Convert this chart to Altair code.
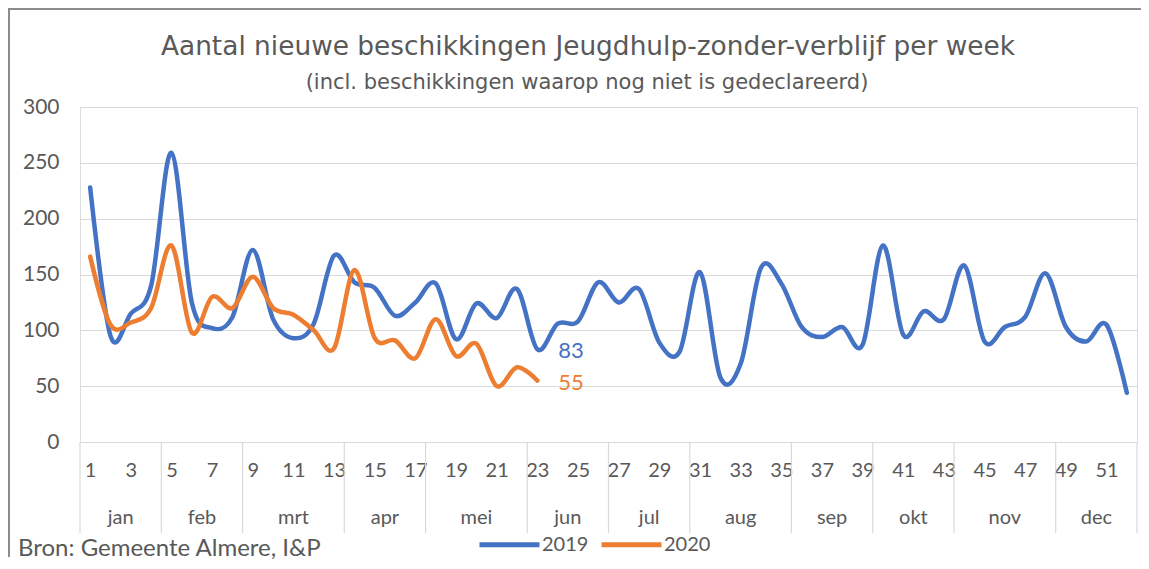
import altair as alt
import pandas as pd

weeks_2019 = list(range(1, 53))
values_2019 = [228, 95, 115, 140, 259, 125, 102, 112, 172, 110, 93, 106, 167,
               143, 138, 113, 125, 142, 92, 124, 111, 137, 83, 106, 108, 143,
               125, 137, 89, 81, 152, 58, 70, 156, 142, 103, 94, 103, 87, 176,
               96, 117, 110, 158, 90, 103, 112, 151, 103, 90, 105, 44]
weeks_2020 = list(range(1, 24))
values_2020 = [166, 105, 107, 120, 176, 98, 130, 120, 148, 120, 114, 100, 84,
               154, 93, 91, 75, 110, 77, 88, 50, 67, 55]

months = ["jan", "feb", "mrt", "apr", "mei", "jun", "jul", "aug", "sep",
          "okt", "nov", "dec"]
weeks_per_month = [4, 4, 5, 4, 5, 4, 4, 5, 4, 4, 5, 4]
week_ticks = list(range(1, 52, 2))

title_text = "Aantal nieuwe beschikkingen Jeugdhulp-zonder-verblijf per week"
subtitle_text = "(incl. beschikkingen waarop nog niet is gedeclareerd)"
source_text = "Bron: Gemeente Almere, I&P"

FONT = "Lato"
TFONT = "DejaVu Sans"
GREY = "#595959"
W, H = 1057, 335

lines = pd.DataFrame(
    [{"week": w, "value": v, "jaar": "2019"} for w, v in zip(weeks_2019, values_2019)]
    + [{"week": w, "value": v, "jaar": "2020"} for w, v in zip(weeks_2020, values_2020)]
)

bounds = [0.5]
for n in weeks_per_month:
    bounds.append(bounds[-1] + n)
month_df = pd.DataFrame({
    "month": months,
    "mid": [(bounds[i] + bounds[i + 1]) / 2 for i in range(len(months))],
})
bound_df = pd.DataFrame({"b": bounds})

last_df = pd.DataFrame({
    "week": [weeks_2020[-1], weeks_2020[-1]],
    "value": [values_2019[weeks_2020[-1] - 1], values_2020[-1]],
    "jaar": ["2019", "2020"],
    "label": [str(values_2019[weeks_2020[-1] - 1]), str(values_2020[-1])],
})

xscale = alt.Scale(domain=[0.5, 52.5], nice=False, zero=False)
yscale = alt.Scale(domain=[0, 300], nice=False)
cscale = alt.Scale(domain=["2019", "2020"], range=["#4472C4", "#ED7D31"])

line_layer = alt.Chart(lines).mark_line(
    strokeWidth=4.5, interpolate="cardinal", tension=0, strokeCap="round"
).encode(
    x=alt.X("week:Q", scale=xscale, axis=alt.Axis(
        values=week_ticks, title=None, grid=False, domain=False, ticks=False,
        labelFontSize=20, labelColor=GREY, labelFont=FONT, labelPadding=28,
        labelBaseline="middle", labelFlush=False)),
    y=alt.Y("value:Q", scale=yscale, axis=alt.Axis(
        values=[0, 50, 100, 150, 200, 250, 300], title=None, domain=False,
        ticks=False, gridColor="#d9d9d9", gridWidth=1.2, labelFontSize=21,
        labelColor=GREY, labelFont=FONT, labelPadding=21)),
    color=alt.Color("jaar:N", scale=cscale, legend=alt.Legend(
        title=None, orient="none", legendX=397, legendY=405, padding=0,
        direction="horizontal", symbolType="stroke", symbolSize=3600,
        symbolStrokeWidth=5, labelFontSize=20, labelColor=GREY,
        labelFont=FONT, labelOffset=0, columnPadding=2)),
)

label_layer = alt.Chart(last_df).mark_text(
    align="left", baseline="middle", dx=21, dy=2, fontSize=22, font=FONT
).encode(
    x=alt.X("week:Q", scale=xscale),
    y=alt.Y("value:Q", scale=yscale),
    text="label:N",
    color=alt.Color("jaar:N", scale=cscale, legend=None),
)

sep_layer = alt.Chart(bound_df).mark_rule(color="#d9d9d9", strokeWidth=1.2).encode(
    x=alt.X("b:Q", scale=xscale),
    y=alt.value(H),
    y2=alt.value(H + 91),
)

month_layer = alt.Chart(month_df).mark_text(
    fontSize=20, font=FONT, color=GREY, baseline="middle"
).encode(
    x=alt.X("mid:Q", scale=xscale),
    y=alt.value(H + 76),
    text="month:N",
)

title_layer = alt.Chart(pd.DataFrame({"t": [title_text]})).mark_text(
    fontSize=26.4, font=TFONT, color=GREY, baseline="middle", align="center"
).encode(x=alt.value(508), y=alt.value(-60), text="t:N")

subtitle_layer = alt.Chart(pd.DataFrame({"t": [subtitle_text]})).mark_text(
    fontSize=21, font=TFONT, color=GREY, baseline="middle", align="center"
).encode(x=alt.value(507), y=alt.value(-24), text="t:N")

source_layer = alt.Chart(pd.DataFrame({"t": [source_text]})).mark_text(
    fontSize=24, font=FONT, color=GREY, baseline="middle", align="left"
).encode(x=alt.value(-62), y=alt.value(442), text="t:N")

border_left = alt.Chart(pd.DataFrame({"k": [0]})).mark_rule(
    color="#8c8c8c", strokeWidth=2
).encode(x=alt.value(-71), y=alt.value(-99), y2=alt.value(450))

border_top = alt.Chart(pd.DataFrame({"k": [0]})).mark_rule(
    color="#8c8c8c", strokeWidth=2
).encode(x=alt.value(-72), x2=alt.value(W + 10), y=alt.value(-98))

chart = alt.layer(
    sep_layer, month_layer, line_layer, label_layer,
    title_layer, subtitle_layer, source_layer, border_left, border_top,
).properties(
    width=W, height=H,
    autosize=alt.AutoSizeParams(type="none"),
    padding={"left": 72, "top": 99, "right": 4, "bottom": 118},
).configure_view(stroke=None).configure(background="white")

chart.save("out.html", embed_options={"renderer": "svg", "actions": False})
